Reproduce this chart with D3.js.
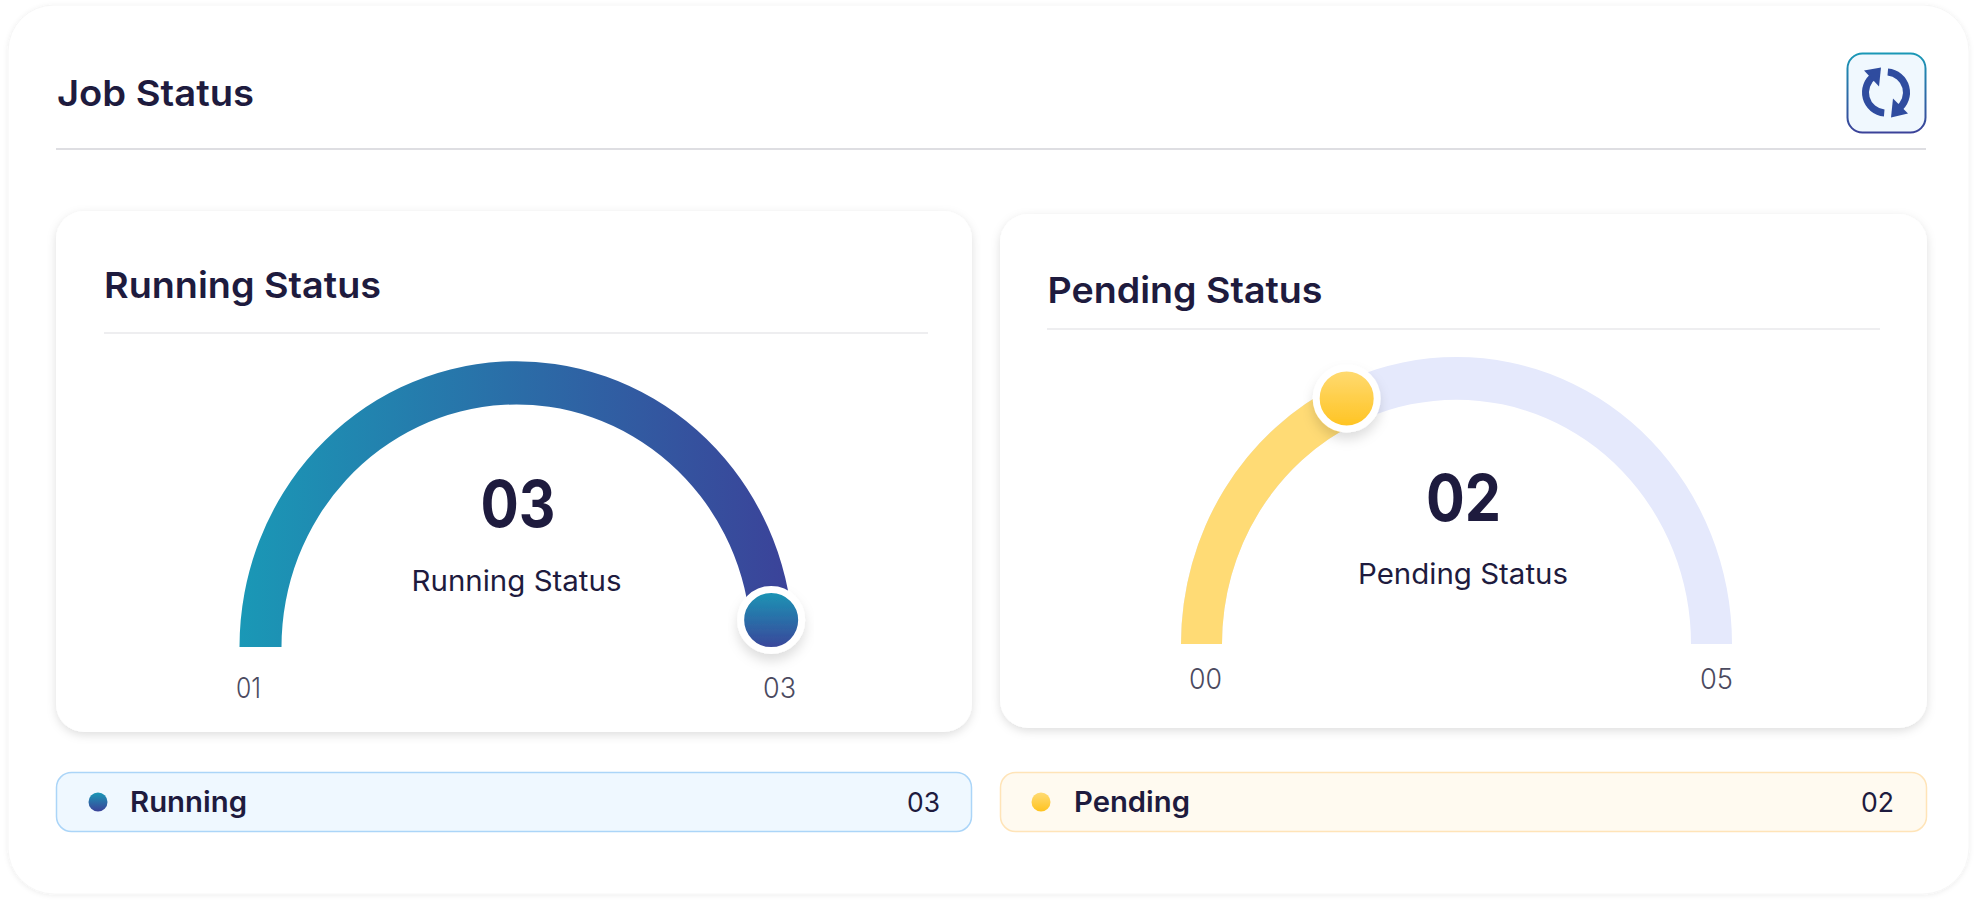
<!DOCTYPE html>
<html><head><meta charset="utf-8">
<script src="https://cdn.jsdelivr.net/npm/d3@7"></script>
<style>html,body{margin:0;padding:0;background:#fff;overflow:hidden}svg{display:block}text{font-family:Inter,"Noto Sans",sans-serif}</style>
</head><body><div id="chart"></div>
<script>
// ---- data ----
const pageTitle = "Job Status";
const gaugeTitles = ["Running Status", "Pending Status"];
const seriesNames = ["Running", "Pending"];
const seriesValues = [3, 2];
const seriesMins = [1, 0];
const seriesMaxs = [3, 5];
// where each knob sits on its track, in axis units, as drawn in the reference
const knobPositions = [2.935, 1.806];

const pad2 = d3.format("02d");
const ink = "#1E1B3E", muted = "#4B4A5F";
const svg = d3.select("#chart").append("svg").attr("width",1977).attr("height",905);
const defs = svg.append("defs");
function grad(id,c1,c2,x2,y2){
  const g=defs.append("linearGradient").attr("id",id).attr("x1",0).attr("y1",0).attr("x2",x2).attr("y2",y2);
  g.append("stop").attr("offset",0).attr("stop-color",c1);
  g.append("stop").attr("offset",1).attr("stop-color",c2);
}
grad("arcBlue","#1A98B6","#3B4299",1,0);
grad("knobBlue","#1A98B6","#3B4299",0,1);
grad("knobYellow","#FFDB75","#FFC31F",0,1);
function blur(id,dy,sd,op){
  const f=defs.append("filter").attr("id",id).attr("x","-20%").attr("y","-40%").attr("width","140%").attr("height","180%");
  f.append("feDropShadow").attr("dx",0).attr("dy",dy).attr("stdDeviation",sd).attr("flood-color","#000").attr("flood-opacity",op);
}
blur("cardShadow",3,5,0.13);
blur("outerShadow",1,2.5,0.07);
blur("knobShadow",7,6,0.13);

function txt(g,s,x,y,size,weight,fill,anchor,len){
  const t=g.append("text").attr("x",x).attr("y",y).attr("font-size",size).attr("font-weight",weight).attr("fill",fill).attr("text-anchor",anchor||"start").text(s);
  if(len) t.attr("textLength",len).attr("lengthAdjust","spacingAndGlyphs");
  return t;
}

// outer card
svg.append("rect").attr("x",8).attr("y",5).attr("width",1961).attr("height",889).attr("rx",46)
  .attr("fill","#fff").attr("stroke","#f6f6f6").attr("stroke-width",1).attr("filter","url(#outerShadow)");
txt(svg,pageTitle,57,106,36,600,ink,"start",197);
svg.append("line").attr("x1",56).attr("x2",1926).attr("y1",149).attr("y2",149).attr("stroke","#DEDEE2").attr("stroke-width",2);

// refresh button
grad("btnStroke","#1A98B6","#3B4299",0,1);
svg.append("rect").attr("x",1847.5).attr("y",53.5).attr("width",78).attr("height",79).attr("rx",15)
  .attr("fill","#F0F8FE").attr("stroke","url(#btnStroke)").attr("stroke-width",2);
const icon=svg.append("g").attr("transform","translate(1886,92.5)").attr("fill","#2F4C9F");
const iconArc=d3.arc().innerRadius(17).outerRadius(24);
const rad=d=>d*Math.PI/180;
icon.append("path").attr("d",iconArc({startAngle:rad(185),endAngle:rad(325)}));
icon.append("path").attr("d",iconArc({startAngle:rad(5),endAngle:rad(145)}));
icon.append("path").attr("d","M-22,-22L-5,-25L-7,-6Z");
icon.append("path").attr("d","M7,6L22,21L5,25Z");

// gauges
const gauges=[
 {card:[56,211,916,521],title:[104,298,277],rule:[104,928,333],cx:516.5,cy:647,ky:1.032,rOut:277,rIn:235,knobR:256,
  bigX:518,bigY:527,bigW:75,labX:516.5,labY:591,labW:210,
  minX:[236,25],maxX:[763,33],tickY:698,fill:"url(#arcBlue)",track:null,knob:"url(#knobBlue)"},
 {card:[1000,214,927,514],title:[1047.5,303,275],rule:[1047,1880,329],cx:1456.5,cy:644,ky:1.042,rOut:275.5,rIn:234.5,knobR:260,
  bigX:1463.5,bigY:521,bigW:75,labX:1463,labY:584,labW:210,
  minX:[1189,33],maxX:[1700,33],tickY:689,fill:"#FFDB75",track:"#E5E9FC",knob:"url(#knobYellow)"}
];
gauges.forEach((c,i)=>{
  const arc=d3.arc().innerRadius(c.rIn).outerRadius(c.rOut);
  const g=svg.append("g");
  g.append("rect").attr("x",c.card[0]).attr("y",c.card[1]).attr("width",c.card[2]).attr("height",c.card[3]).attr("rx",28)
    .attr("fill","#fff").attr("filter","url(#cardShadow)");
  txt(g,gaugeTitles[i],c.title[0],c.title[1],36,600,ink,"start",c.title[2]);
  g.append("line").attr("x1",c.rule[0]).attr("x2",c.rule[1]).attr("y1",c.rule[2]).attr("y2",c.rule[2]).attr("stroke","#E8E8EB").attr("stroke-width",1.5);

  const angle=d3.scaleLinear().domain([seriesMins[i],seriesMaxs[i]]).range([-Math.PI/2,Math.PI/2]);
  const a=angle(knobPositions[i]);
  const arcs=g.append("g").attr("transform",`translate(${c.cx},${c.cy}) scale(1,${c.ky})`);
  if(c.track) arcs.append("path").attr("d",arc({startAngle:-Math.PI/2,endAngle:Math.PI/2})).attr("fill",c.track);
  arcs.append("path").attr("d",arc({startAngle:-Math.PI/2,endAngle:a})).attr("fill",c.fill);

  g.append("circle").attr("cx",c.cx+c.knobR*Math.sin(a)).attr("cy",c.cy-c.knobR*c.ky*Math.cos(a)).attr("r",30.5)
    .attr("fill",c.knob).attr("stroke","#fff").attr("stroke-width",7).attr("filter","url(#knobShadow)");

  txt(g,pad2(seriesValues[i]),c.bigX,c.bigY,65,700,ink,"middle",c.bigW);
  txt(g,gaugeTitles[i],c.labX,c.labY,28,400,ink,"middle",c.labW);
  txt(g,pad2(seriesMins[i]),c.minX[0],c.tickY,28,300,muted,"start",c.minX[1]);
  txt(g,pad2(seriesMaxs[i]),c.maxX[0],c.tickY,28,300,muted,"start",c.maxX[1]);
});

// legend rows
const rows=[
 {x:56.5,w:915,fill:"#EFF8FF",stroke:"#ABD5F8",dotX:98,dot:"url(#knobBlue)",nameX:130,nameW:117,valX:907},
 {x:1000.5,w:926,fill:"#FFFAF0",stroke:"#FFE4B8",dotX:1041,dot:"url(#knobYellow)",nameX:1074,nameW:116,valX:1861}
];
rows.forEach((r,i)=>{
  const g=svg.append("g");
  g.append("rect").attr("x",r.x).attr("y",772.5).attr("width",r.w).attr("height",59).attr("rx",15)
    .attr("fill",r.fill).attr("stroke",r.stroke).attr("stroke-width",1.5);
  g.append("circle").attr("cx",r.dotX).attr("cy",802).attr("r",9.5).attr("fill",r.dot);
  txt(g,seriesNames[i],r.nameX,812,28,600,ink,"start",r.nameW);
  txt(g,pad2(seriesValues[i]),r.valX,812,27,400,ink,"start",33);
});
</script></body></html>
